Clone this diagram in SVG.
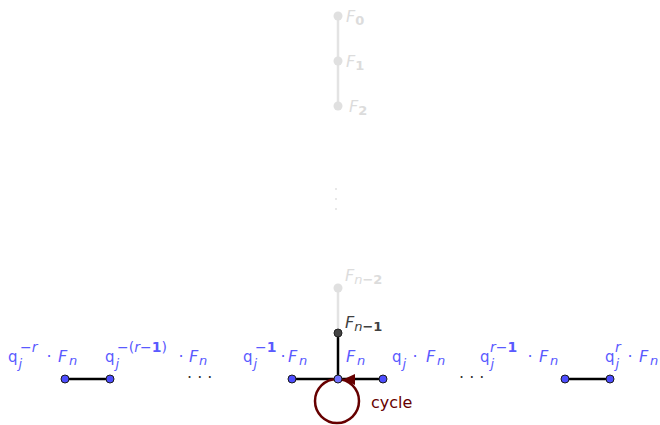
<svg xmlns="http://www.w3.org/2000/svg" width="660" height="425" viewBox="0 0 660 425">
<style>
text{font-family:"DejaVu Sans",sans-serif;}
.lbl{fill:#5a5aff;font-size:16px;}
.q{font-size:15px;}
.it{font-style:italic;}
.sm{font-size:13px;}
.sup{font-size:14px;}
.b{font-weight:bold;}
.gray{fill:#dcdcdc;font-size:16px;}
.dark{fill:#404040;font-size:16px;}
.edge{stroke:#000;stroke-width:2.5;fill:none;}
.ledge{stroke:#e3e3e3;stroke-width:2.5;fill:none;}
.bp{fill:#4d4dff;stroke:#1a1a1a;stroke-width:1;}
.gp{fill:#e0e0e0;}
.dots{fill:#333;font-size:16px;}
</style>
<rect width="660" height="425" fill="#fff"/>
<g id="connectors">
<line class="ledge" x1="338" y1="16" x2="338" y2="106"/>
<line class="ledge" x1="338" y1="288" x2="338" y2="333"/>
<line class="edge" x1="338" y1="333" x2="338" y2="379"/>
<line class="edge" x1="65" y1="379" x2="110" y2="379"/>
<line class="edge" x1="292" y1="379" x2="383" y2="379"/>
<line class="edge" x1="565" y1="379" x2="610" y2="379"/>
<g id="cycle">
<circle cx="337" cy="401" r="22" fill="none" stroke="#660000" stroke-width="2.5"/>
<polygon points="343,379.5 355,374 355,385" fill="#660000"/>
<text x="371" y="408" font-size="16" fill="#660000">cycle</text>
</g>
</g>
<g id="F0"><circle class="gp" cx="338" cy="16" r="4.5"/><text class="gray" x="346" y="22"><tspan class="it">F</tspan><tspan class="sm b" dy="3">0</tspan></text></g>
<g id="F1"><circle class="gp" cx="338" cy="61" r="4.5"/><text class="gray" x="346" y="67"><tspan class="it">F</tspan><tspan class="sm b" dy="3">1</tspan></text></g>
<g id="F2"><circle class="gp" cx="338" cy="106" r="4.5"/><text class="gray" x="349" y="112"><tspan class="it">F</tspan><tspan class="sm b" dy="3">2</tspan></text></g>
<g id="vdots" fill="#e0e0e0"><circle cx="336" cy="189" r="1"/><circle cx="336" cy="199" r="1"/><circle cx="336" cy="209" r="1"/></g>
<g id="Fn-2"><circle class="gp" cx="338" cy="288" r="4.5"/><text class="gray" x="345" y="281"><tspan class="it">F</tspan><tspan class="sm it" dy="3">n</tspan><tspan class="sm b">−2</tspan></text></g>
<g id="Fn-1"><circle cx="338" cy="333" r="4" fill="#444" stroke="#222" stroke-width="1"/><text class="dark" x="345" y="328"><tspan class="it">F</tspan><tspan class="sm it" dy="3">n</tspan><tspan class="sm b">−1</tspan></text></g>

<g id="qm_r">
<circle class="bp" cx="65" cy="379" r="4"/><circle class="bp" cx="110" cy="379" r="4"/>
<text class="lbl q" x="8" y="362">q</text><text class="lbl sm it" x="18.5" y="368">j</text><text class="lbl sup" x="20" y="352">−<tspan class="it">r</tspan></text>
<text class="lbl" x="46.5" y="362">·</text><text class="lbl it" x="58" y="362">F</text><text class="lbl sm it" x="69" y="365">n</text>
</g>
<g id="qm_r1">
<text class="lbl q" x="105" y="362">q</text><text class="lbl sm it" x="115.5" y="368">j</text><text class="lbl sup" x="117" y="352">−(<tspan class="it">r</tspan>−<tspan class="b">1</tspan>)</text>
<text class="lbl" x="178.5" y="362">·</text><text class="lbl it" x="189" y="362">F</text><text class="lbl sm it" x="199" y="365">n</text>
</g>
<text class="dots" x="187" y="383">· · ·</text>
<g id="qm_1">
<circle class="bp" cx="292" cy="379" r="4"/>
<text class="lbl q" x="243" y="362">q</text><text class="lbl sm it" x="253.5" y="368">j</text><text class="lbl sup" x="255" y="352">−<tspan class="b">1</tspan></text>
<text class="lbl" x="280.5" y="362">·</text><text class="lbl it" x="288" y="362">F</text><text class="lbl sm it" x="299" y="365">n</text>
</g>
<g id="Fn">
<circle cx="338" cy="379" r="4" fill="#7272ff" stroke="#1a1a1a" stroke-width="1"/>
<text class="lbl it" x="346" y="362">F</text><text class="lbl sm it" x="357" y="365">n</text>
</g>
<g id="q_1">
<circle class="bp" cx="383" cy="379" r="4"/>
<text class="lbl q" x="392" y="362">q</text><text class="lbl sm it" x="402.5" y="368">j</text>
<text class="lbl" x="412.5" y="362">·</text><text class="lbl it" x="426" y="362">F</text><text class="lbl sm it" x="437" y="365">n</text>
</g>
<text class="dots" x="459" y="383">· · ·</text>
<g id="q_r1">
<text class="lbl q" x="480" y="362">q</text><text class="lbl sm it" x="490.5" y="368">j</text><text class="lbl sup" x="490" y="352"><tspan class="it">r</tspan>−<tspan class="b">1</tspan></text>
<text class="lbl" x="527.5" y="362">·</text><text class="lbl it" x="539" y="362">F</text><text class="lbl sm it" x="550" y="365">n</text>
</g>
<g id="q_r">
<circle class="bp" cx="565" cy="379" r="4"/><circle class="bp" cx="610" cy="379" r="4"/>
<text class="lbl q" x="605" y="362">q</text><text class="lbl sm it" x="615.5" y="368">j</text><text class="lbl sup it" x="615" y="352">r</text>
<text class="lbl" x="627.5" y="362">·</text><text class="lbl it" x="639" y="362">F</text><text class="lbl sm it" x="650" y="365">n</text>
</g>
</svg>
